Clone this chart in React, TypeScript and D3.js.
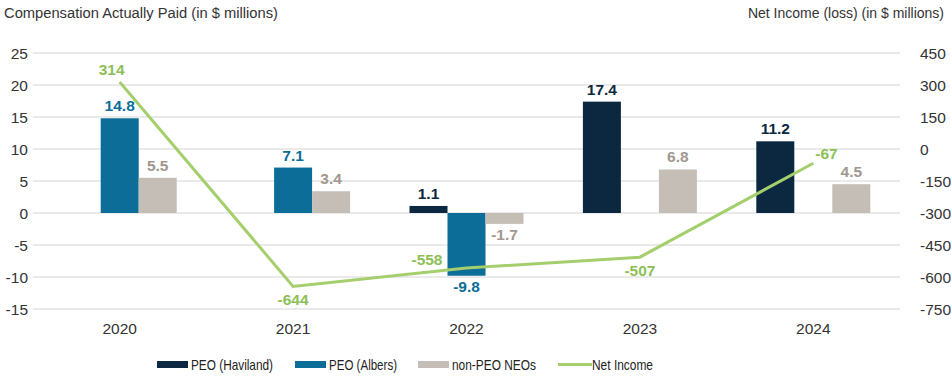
import React from "react";
import * as d3 from "d3";

const years = ["2020", "2021", "2022", "2023", "2024"];
const haviland: (number | null)[] = [null, null, 1.1, 17.4, 11.2];
const albers: (number | null)[] = [14.8, 7.1, -9.8, null, null];
const nonPeo: (number | null)[] = [5.5, 3.4, -1.7, 6.8, 4.5];
const netIncome = [314, -644, -558, -507, -67];
const leftTicks = [25, 20, 15, 10, 5, 0, -5, -10, -15];
const rightTicks = [450, 300, 150, 0, -150, -300, -450, -600, -750];
const netLabelPos = ["above", "below", "left", "below", "right"];

const seriesList = [
  { name: "PEO (Haviland)", values: haviland, color: "#0b2840", label: "#0b2840" },
  { name: "PEO (Albers)", values: albers, color: "#0c6d98", label: "#0c6d98" },
  { name: "non-PEO NEOs", values: nonPeo, color: "#c5beb7", label: "#9f9790" },
];
const lineColor = "#a4cf6c";
const lineLabel = "#8cc056";

const W = 951;
const H = 377;
const FONT = "'Liberation Sans', Arial, sans-serif";

export default function App() {
  const x0 = 33, x1 = 900;
  const x = d3.scaleBand<string>().domain(years).range([x0, x1]).paddingInner(0).paddingOuter(0);
  const groupW = 114;
  const xs = d3.scaleBand<number>().domain([0, 1, 2]).range([0, groupW]);
  const yL = d3.scaleLinear().domain([-15, 25]).range([309, 53]);
  const yR = d3.scaleLinear().domain([-750, 450]).range([309, 53]);
  const cx = (y: string) => (x(y) as number) + x.bandwidth() / 2;

  const line = d3
    .line<number>()
    .x((_, i) => cx(years[i]))
    .y((d) => yR(d));

  const legend = [
    { name: "PEO (Haviland)", color: seriesList[0].color, x: 157, type: "rect", tl: 82 },
    { name: "PEO (Albers)", color: seriesList[1].color, x: 295, type: "rect", tl: 68 },
    { name: "non-PEO NEOs", color: seriesList[2].color, x: 418, type: "rect", tl: 84 },
    { name: "Net Income", color: lineColor, x: 558, type: "line", tl: 61 },
  ];

  return (
    <svg width={W} height={H} style={{ position: "absolute", left: 0, top: 0 }} fontFamily={FONT}>
      <rect width={W} height={H} fill="#fff" />
      <text x={4} y={18} fontSize={15.5} fill="#333" textLength={274} lengthAdjust="spacingAndGlyphs">
        Compensation Actually Paid (in $ millions)
      </text>
      <text x={944} y={18} fontSize={14} fill="#333" textAnchor="end">
        Net Income (loss) (in $ millions)
      </text>
      {leftTicks.map((t) => (
        <g key={"g" + t}>
          <line x1={x0} x2={x1} y1={yL(t)} y2={yL(t)} stroke="#e3e3e3" strokeWidth={1.5} />
          <text x={28} y={yL(t) + 5.5} fontSize={15.5} fill="#333" textAnchor="end">
            {t}
          </text>
        </g>
      ))}
      {rightTicks.map((t) => (
        <text key={"r" + t} x={920} y={yR(t) + 5.5} fontSize={15.5} fill="#333">
          {t}
        </text>
      ))}
      {years.map((y) => (
        <text key={"x" + y} x={cx(y)} y={334} fontSize={15.5} fill="#333" textAnchor="middle">
          {y}
        </text>
      ))}
      {seriesList.map((s, si) =>
        s.values.map((v, i) => {
          if (v === null) return null;
          const bx = cx(years[i]) - groupW / 2 + (xs(si) as number);
          const bw = xs.bandwidth();
          const top = yL(Math.max(0, v));
          const bot = yL(Math.min(0, v));
          return (
            <g key={s.name + i}>
              <rect x={bx} y={top} width={bw} height={bot - top} fill={s.color} />
              <text
                x={bx + bw / 2}
                y={v >= 0 ? top - 7 : bot + 16}
                fontSize={15.5}
                fontWeight="bold"
                fill={s.label}
                textAnchor="middle"
              >
                {v}
              </text>
            </g>
          );
        })
      )}
      <path d={line(netIncome) || ""} fill="none" stroke={lineColor} strokeWidth={3} />
      {netIncome.map((v, i) => {
        const px = cx(years[i]);
        const py = yR(v);
        const pos = netLabelPos[i];
        let tx = px, ty = py, anchor = "middle";
        if (pos === "above") { tx = px - 8; ty = py - 7; }
        if (pos === "below") { ty = py + 19; }
        if (pos === "left") { tx = px - 24; ty = py - 3; anchor = "end"; }
        if (pos === "right") { tx = px + 2; ty = py - 4; anchor = "start"; }
        return (
          <text key={"n" + i} x={tx} y={ty} fontSize={15.5} fontWeight="bold" fill={lineLabel} textAnchor={anchor}>
            {v}
          </text>
        );
      })}
      {legend.map((l) => (
        <g key={l.name}>
          {l.type === "rect" ? (
            <rect x={l.x} y={361} width={31} height={7} fill={l.color} />
          ) : (
            <line x1={l.x} x2={l.x + 34} y1={364.5} y2={364.5} stroke={l.color} strokeWidth={3} />
          )}
          <text x={l.x + 34} y={369.5} fontSize={15} fill="#222" textLength={l.tl} lengthAdjust="spacingAndGlyphs">
            {l.name}
          </text>
        </g>
      ))}
    </svg>
  );
}
